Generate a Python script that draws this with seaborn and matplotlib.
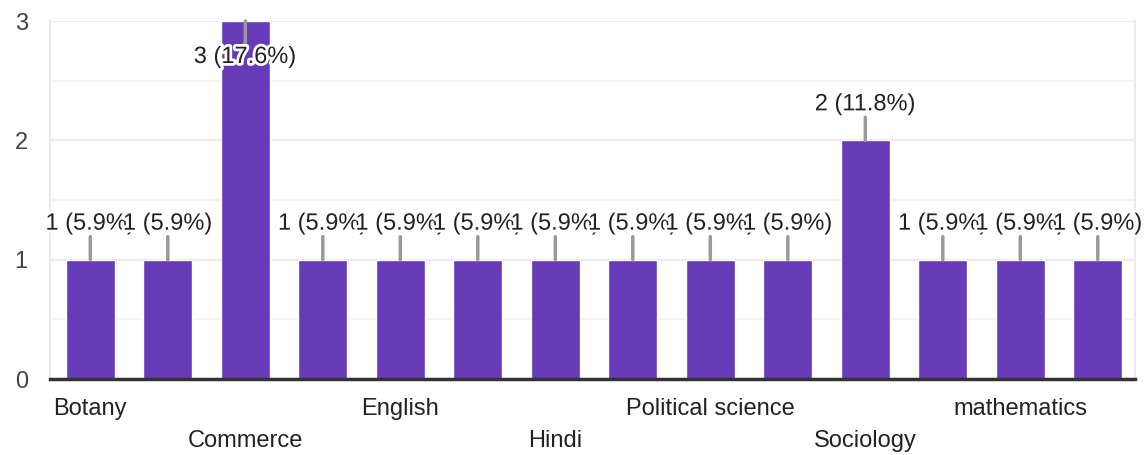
import matplotlib
matplotlib.use("Agg")
import matplotlib.pyplot as plt
import matplotlib.patheffects as pe
import seaborn as sns
import pandas as pd

subjects = ["Botany", "Chemistry", "Commerce", "Economics", "English", "Geography",
            "Hindi", "History", "Political science", "Psychology", "Sociology",
            "Zoology", "mathematics", "physics"]
counts = [1, 1, 3, 1, 1, 1, 1, 1, 1, 1, 2, 1, 1, 1]
percents = ["5.9%", "5.9%", "17.6%", "5.9%", "5.9%", "5.9%", "5.9%", "5.9%",
            "5.9%", "5.9%", "11.8%", "5.9%", "5.9%", "5.9%"]

df = pd.DataFrame({"subject": subjects, "count": counts})

sns.set_style("white")
plt.rcParams["font.family"] = ["Liberation Sans", "DejaVu Sans"]

fig = plt.figure(figsize=(11.44, 4.55), dpi=100)
ax = fig.add_axes([50 / 1144, 1 - 379 / 455, 1085 / 1144, 358 / 455])

sns.barplot(data=df, x="subject", y="count", color="#673ab7", saturation=1,
            width=0.63, ax=ax, zorder=3)

ax.set_ylim(0, 3)
ax.set_xlim(-0.52, 13.48)
ax.set_yticks([0, 1, 2, 3])
ax.set_yticks([0.5, 1.5, 2.5], minor=True)
ax.grid(axis="y", which="major", color="#ebebeb", lw=1.5, zorder=0)
ax.grid(axis="y", which="minor", color="#f4f4f4", lw=1.5, zorder=0)
ax.tick_params(axis="y", which="both", length=0, pad=16, labelsize=17, labelcolor="#444444")

# only every second subject gets a label, staggered over two rows
labels = []
for i, s in enumerate(subjects):
    if i % 2 == 1:
        labels.append("")
    elif i % 4 == 2:
        labels.append("\n" + s)
    else:
        labels.append(s)
ax.set_xticks(range(len(subjects)))
ax.set_xticklabels(labels, fontsize=17, color="#222222", linespacing=1.55)
ax.tick_params(axis="x", length=0, pad=14)
ax.set_xlabel("")
ax.set_ylabel("")

ax.spines["top"].set_visible(False)
ax.spines["left"].set_color("#ebebeb")
ax.spines["left"].set_linewidth(1.5)
ax.spines["right"].set_color("#ebebeb")
ax.spines["right"].set_linewidth(1.5)
ax.spines["bottom"].set_color("#333333")
ax.spines["bottom"].set_linewidth(2.5)
ax.spines["bottom"].set_zorder(5)

top = max(counts)
halo = [pe.withStroke(linewidth=4, foreground="white")]
for i, (c, p) in enumerate(zip(counts, percents)):
    sign = -1 if c == top else 1
    ax.annotate("", xy=(i, c), xytext=(0, sign * 23), textcoords="offset pixels",
                arrowprops=dict(arrowstyle="-", color="#999999", lw=2.5,
                                shrinkA=0, shrinkB=0), zorder=4)
    ax.annotate(f"{c} ({p})", xy=(i, c), xytext=(0, sign * 36),
                textcoords="offset pixels", ha="center", va="center",
                fontsize=17, color="#222222", path_effects=halo, zorder=6,
                annotation_clip=False)

fig.savefig("out.png", dpi=100, facecolor="white")
